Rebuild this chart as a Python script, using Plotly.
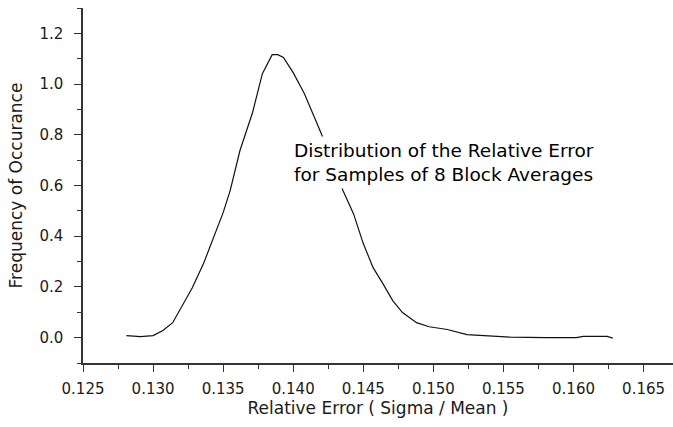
import plotly.graph_objects as go

# Relative error (sigma / mean) and its frequency of occurrence
rel_error = [0.1281, 0.1291, 0.1300, 0.1307, 0.1314, 0.1321, 0.1328, 0.1336,
             0.1343, 0.1350, 0.1355, 0.1362, 0.1371, 0.1378, 0.1385, 0.1389,
             0.1393, 0.1400, 0.1408, 0.1415, 0.1420, 0.14355, 0.1443, 0.1450,
             0.1457, 0.1464, 0.1471, 0.1478, 0.1488, 0.1497, 0.1510, 0.1524,
             0.1538, 0.1555, 0.1580, 0.1602, 0.1607, 0.1624, 0.1628]
frequency = [0.008, 0.004, 0.008, 0.028, 0.059, 0.126, 0.197, 0.292,
             0.394, 0.493, 0.580, 0.738, 0.888, 1.041, 1.116, 1.116,
             1.105, 1.045, 0.962, 0.868, 0.805, 0.580, 0.489, 0.371,
             0.276, 0.213, 0.146, 0.099, 0.059, 0.043, 0.032, 0.012,
             0.008, 0.002, 0.000, 0.000, 0.005, 0.005, -0.002]

x_ticks = [0.125, 0.130, 0.135, 0.140, 0.145, 0.150, 0.155, 0.160, 0.165]
x_ticklabels = ["0.125", "0.130", "0.135", "0.140", "0.145", "0.150",
                "0.155", "0.160", "0.165"]
y_ticks = [0.0, 0.2, 0.4, 0.6, 0.8, 1.0, 1.2]
y_ticklabels = ["0.0", "0.2", "0.4", "0.6", "0.8", "1.0", "1.2"]

FONT = "DejaVu Sans"
INK = "#1a1a1a"

fig = go.Figure()
fig.add_trace(go.Scatter(
    x=rel_error, y=frequency, mode="lines",
    line=dict(color="#111111", width=1.2),
    showlegend=False, hoverinfo="skip",
))

axis_common = dict(
    showgrid=False, zeroline=False, showline=True,
    linecolor="#333333", linewidth=1.5,
    ticks="outside", ticklen=7, tickwidth=1, tickcolor="#333333",
    tickfont=dict(family=FONT, size=15, color=INK),
    mirror=False,
)

fig.update_xaxes(
    range=[0.125, 0.1671],
    tickvals=x_ticks, ticktext=x_ticklabels,
    minor=dict(dtick=0.0025, tick0=0.125, ticks="outside", ticklen=4,
               tickwidth=1, tickcolor="#333333", showgrid=False),
    title=dict(text="Relative Error ( Sigma / Mean )",
               font=dict(family=FONT, size=17, color=INK), standoff=5),
    ticklabelstandoff=4,
    **axis_common,
)
fig.update_yaxes(
    range=[-0.1, 1.3],
    tickvals=y_ticks, ticktext=y_ticklabels,
    minor=dict(dtick=0.1, tick0=0.0, ticks="outside", ticklen=4,
               tickwidth=1, tickcolor="#333333", showgrid=False),
    title=dict(text="Frequency of Occurance",
               font=dict(family=FONT, size=17, color=INK), standoff=12),
    ticklabelstandoff=8,
    **axis_common,
)

fig.add_annotation(
    xref="paper", yref="paper", x=0.351, y=0.565,
    xanchor="left", yanchor="middle", align="left",
    text="Distribution of the Relative Error<br>for Samples of 8 Block Averages",
    showarrow=False, bgcolor="white", borderpad=3,
    font=dict(family=FONT, size=18.5, color="#000000"),
)

fig.update_layout(
    width=673, height=427,
    margin=dict(l=83, r=0, t=8, b=64),
    paper_bgcolor="white", plot_bgcolor="white",
)

fig.write_html("out.html")
